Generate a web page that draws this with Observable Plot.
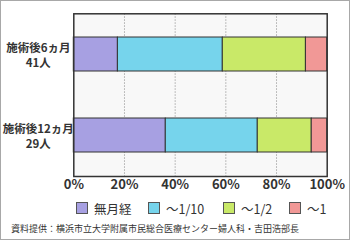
<!DOCTYPE html>
<html><head><meta charset="utf-8">
<script src="https://cdn.jsdelivr.net/npm/d3@7"></script>
<script src="https://cdn.jsdelivr.net/npm/@observablehq/plot@0.6"></script>
<style>
html,body{margin:0;padding:0;background:#fff;}
#wrap{position:relative;width:350px;height:240px;box-sizing:border-box;border:1px solid #a8a8a8;background:#fff;font-family:"Noto Sans CJK JP",sans-serif;color:#333;overflow:hidden;}
#chart svg{display:block;}
#legend{position:relative;height:22px;}
.item{position:absolute;top:0;height:22px;display:flex;align-items:center;font-size:12.5px;white-space:nowrap;}
.sw{width:10px;height:10px;border:1px solid #555;margin-right:6px;flex:none;}
#caption{height:20px;line-height:20px;font-size:9px;padding-left:10px;white-space:nowrap;color:#333;}
</style></head>
<body>
<div id="wrap"><div id="chart"></div><div id="legend"></div><div id="caption"></div></div>
<script>
const groupNames = ["施術後6ヵ月", "施術後12ヵ月"];
const groupCounts = ["41人", "29人"];
const categories = ["無月経", "～1/10", "～1/2", "～1"];
const colors = ["#a7a0e2", "#76d4ec", "#c9e968", "#f19896"];
const values6m = [17.4, 41.4, 32.8, 8.4];
const values12m = [36.3, 36.3, 21.3, 6.1];
const xTicks = [0, 20, 40, 60, 80, 100];
const gridTicks = [20, 40, 60, 80];
const captionText = "資料提供：横浜市立大学附属市民総合医療センター婦人科・吉田浩部長";

const series = [values6m, values12m];
const data = [];
groupNames.forEach((g, gi) => categories.forEach((c, ci) => data.push({group: g, cat: c, value: series[gi][ci]})));
const labels = groupNames.map((g, i) => ({group: g, label: g + "\n" + groupCounts[i]}));

const plot = Plot.plot({
  width: 348, height: 196,
  marginLeft: 72.3, marginRight: 22.3, marginTop: 12.3, marginBottom: 21,
  style: {fontFamily: '"Noto Sans CJK JP", sans-serif', background: "transparent"},
  x: {domain: [0, 100], axis: null, label: null},
  y: {domain: groupNames, axis: null, label: null, paddingInner: 0.585, paddingOuter: 0.287},
  color: {domain: categories, range: colors},
  marks: [
    Plot.frame({fill: "#f8f8f8"}),
    Plot.ruleX(gridTicks, {stroke: "#aaa", strokeDasharray: "1.5,1.5"}),
    Plot.barX(data, Plot.stackX({x: "value", y: "group", fill: "cat", order: categories, stroke: "#333", strokeWidth: 1})),
    Plot.frame({stroke: "#333", strokeWidth: 1.5}),
    Plot.axisX({ticks: xTicks, tickFormat: d => d + "%", label: null, tickSize: 0, tickPadding: 3, fontSize: 13, fontWeight: "bold", fill: "#333"}),
    Plot.text(labels, {y: "group", text: "label", frameAnchor: "left", dx: -35.5, textAnchor: "middle", lineAnchor: "middle", fontSize: 11.5, fontWeight: "bold", fill: "#333", lineHeight: 1.35})
  ]
});
document.getElementById("chart").appendChild(plot);

const legendLefts = [75, 147, 222, 288];
const legend = document.getElementById("legend");
categories.forEach((c, i) => {
  const it = document.createElement("div");
  it.className = "item";
  it.style.left = legendLefts[i] + "px";
  it.innerHTML = `<span class="sw" style="background:${colors[i]}"></span><span>${c}</span>`;
  legend.appendChild(it);
});
document.getElementById("caption").textContent = captionText;
</script>
</body></html>
